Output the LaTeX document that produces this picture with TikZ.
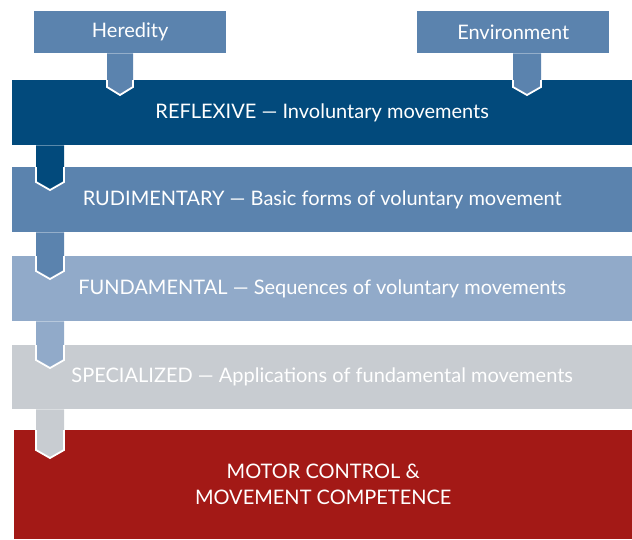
\documentclass[tikz,border=0pt]{standalone}
\usepackage{fontspec}
\setmainfont{Lato}
\usetikzlibrary{calc}

\definecolor{reflexblue}{HTML}{024A7C}
\definecolor{midblue}{HTML}{5B83AE}
\definecolor{lightblue}{HTML}{91AAC9}
\definecolor{palegray}{HTML}{C8CCD1}
\definecolor{motorred}{HTML}{A31916}

\tikzset{
  bar/.style={fill=#1, text=white, anchor=north west, inner sep=0pt, minimum width=620pt, minimum height=65pt, font=\fontsize{20}{26}\selectfont},
  topbox/.style={fill=midblue, text=white, anchor=north west, inner sep=0pt, minimum width=192pt, minimum height=42pt, font=\fontsize{20}{22}\selectfont},
}

% source, target, x, half width, chevron start, tip depth, colour
\newcommand{\stemarrow}[7]{%
  \fill[#7] ($(#3,0 |- #1.south)+(-#4,0)$) -- ($(#3,0 |- #2.north)+(-#4,#5)$) -- ($(#3,0 |- #2.north)+(0,#6)$) -- ($(#3,0 |- #2.north)+(#4,#5)$) -- ($(#3,0 |- #1.south)+(#4,0)$) -- cycle;
  \draw[white, line width=1.8pt] ($(#3,0 |- #2.north)+(-#4,0)$) -- ($(#3,0 |- #2.north)+(-#4,#5)$) -- ($(#3,0 |- #2.north)+(0,#6)$) -- ($(#3,0 |- #2.north)+(#4,#5)$) -- ($(#3,0 |- #2.north)+(#4,0)$);
}

\begin{document}
\begin{tikzpicture}[x=1pt, y=-1pt]
\useasboundingbox (0,0) rectangle (632,539);

% Inputs
\node [topbox] (heredity) at (34,11) {Heredity};
\node [topbox] (environment) at (417,11) {Environment};

% Phases
\node [bar=reflexblue] (reflexive) at (12,80) {REFLEXIVE — Involuntary movements};
\node [bar=midblue] (rudimentary) at (12,167) {RUDIMENTARY — Basic forms of voluntary movement};
\node [bar=lightblue] (fundamental) at (12,256) {FUNDAMENTAL — Sequences of voluntary movements};
\node [bar=palegray, minimum height=64pt] (specialized) at (12,345) {SPECIALIZED — Applications of fundamental movements};
\node [bar=motorred, minimum width=618pt, minimum height=109pt, align=center] (motor) at (14,430) {MOTOR CONTROL \&\\MOVEMENT COMPETENCE};

% Connectors
\stemarrow{heredity}{reflexive}{120}{13}{7}{15}{midblue}
\stemarrow{environment}{reflexive}{527}{14}{7}{15}{midblue}
\stemarrow{reflexive}{rudimentary}{50}{14}{15}{23}{reflexblue}
\stemarrow{rudimentary}{fundamental}{50}{14}{15}{23}{midblue}
\stemarrow{fundamental}{specialized}{50}{14}{15}{23}{lightblue}
\stemarrow{specialized}{motor}{50}{14}{20}{28}{palegray}
\end{tikzpicture}
\end{document}
